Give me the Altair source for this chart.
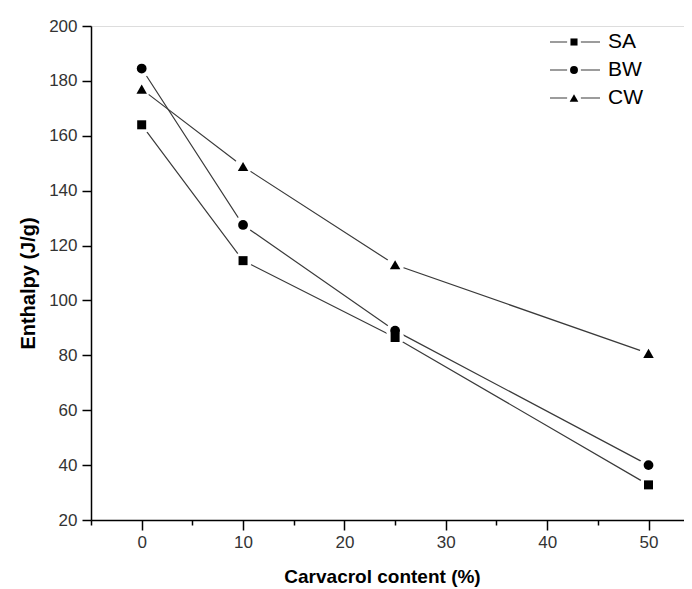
import altair as alt
import pandas as pd

series = ["SA", "BW", "CW"]
carvacrol = [0, 10, 25, 50]
sa = [164.0, 114.5, 86.5, 32.8]
bw = [184.5, 127.5, 89.0, 40.0]
cw = [177.0, 148.8, 113.0, 80.7]
shapes = ["square", "circle", "triangle-up"]
sizes = [81, 110, 170]
legend_sizes = [50, 75, 130]

rows = []
for name, vals in zip(series, [sa, bw, cw]):
    for xv, yv in zip(carvacrol, vals):
        rows.append({"series": name, "x": xv, "y": yv})
df = pd.DataFrame(rows)
leg = pd.DataFrame({"series": series})

FONT = "Liberation Sans"

x_enc = alt.X(
    "x:Q",
    scale=alt.Scale(domain=[-5, 53.5], nice=False, zero=False),
    axis=alt.Axis(
        values=list(range(-5, 55, 5)),
        labelExpr="datum.value % 10 == 0 ? datum.label : ''",
        tickSize={"condition": {"test": "datum.value % 10 == 0", "value": 10}, "value": 5},
        grid=False,
        domainColor="black", domainWidth=1.5,
        tickColor="black", tickWidth=1.5,
        labelFont=FONT, labelFontSize=17, labelColor="#333", labelPadding=4,
        title="Carvacrol content (%)", titleFont=FONT, titleFontSize=19,
        titleFontWeight="bold", titleColor="black",
        titleY=62, titleBaseline="alphabetic", titleX=291,
    ),
)
y_enc = alt.Y(
    "y:Q",
    scale=alt.Scale(domain=[20, 200], nice=False, zero=False),
    axis=alt.Axis(
        values=list(range(20, 201, 10)),
        labelExpr="datum.value % 20 == 0 ? datum.label : ''",
        tickSize={"condition": {"test": "datum.value % 20 == 0", "value": 9}, "value": 5},
        grid=False,
        domainColor="black", domainWidth=1.5,
        tickColor="black", tickWidth=1.5,
        labelFont=FONT, labelFontSize=17, labelColor="#333", labelPadding=5,
        title="Enthalpy (J/g)", titleFont=FONT, titleFontSize=20,
        titleFontWeight="bold", titleColor="black",
        titleX=-63, titleY=257, titleBaseline="middle",
    ),
)

shape_enc = alt.Shape("series:N", scale=alt.Scale(domain=series, range=shapes), legend=None)
size_enc = alt.Size("series:N", scale=alt.Scale(domain=series, range=sizes), legend=None)
lsize_enc = alt.Size("series:N", scale=alt.Scale(domain=series, range=legend_sizes), legend=None)

base = alt.Chart(df)
lines = base.mark_line(color="#3a3a3a", strokeWidth=1.2).encode(
    x=x_enc, y=y_enc, detail="series:N"
)
halos = base.mark_point(filled=True, color="white", opacity=1, shape="circle", size=324).encode(
    x="x:Q", y="y:Q"
)
points = base.mark_point(filled=True, color="black", opacity=1).encode(
    x="x:Q", y="y:Q", shape=shape_enc, size=size_enc
)
data_layer = alt.layer(lines, halos, points)

ly = alt.Y("series:N", scale=alt.Scale(domain=series, range=[2, 86]), axis=None)
lbase = alt.Chart(leg)
leg_line = lbase.mark_rule(color="#3a3a3a", strokeWidth=1.2).encode(
    x=alt.value(459), x2=alt.value(509), y=ly
)
leg_halo = lbase.mark_point(filled=True, color="white", opacity=1, shape="circle", size=196).encode(
    x=alt.value(483), y=ly
)
leg_pt = lbase.mark_point(filled=True, color="black", opacity=1).encode(
    x=alt.value(483), y=ly, shape=shape_enc, size=lsize_enc
)
leg_txt = lbase.mark_text(align="left", baseline="middle", font=FONT, fontSize=21, color="black").encode(
    x=alt.value(517), y=ly, text="series:N"
)
legend_layer = alt.layer(leg_line, leg_halo, leg_pt, leg_txt)

chart = (
    alt.layer(data_layer, legend_layer)
    .resolve_scale(y="independent", size="independent")
    .properties(
        width=593, height=494,
        autosize=alt.AutoSizeParams(type="none"),
        padding={"left": 83, "top": 18, "right": 0, "bottom": 72},
    )
    .configure_view(stroke=None)
    .configure(background="white")
)

chart.save("out.html", embed_options={"renderer": "svg", "actions": False})
